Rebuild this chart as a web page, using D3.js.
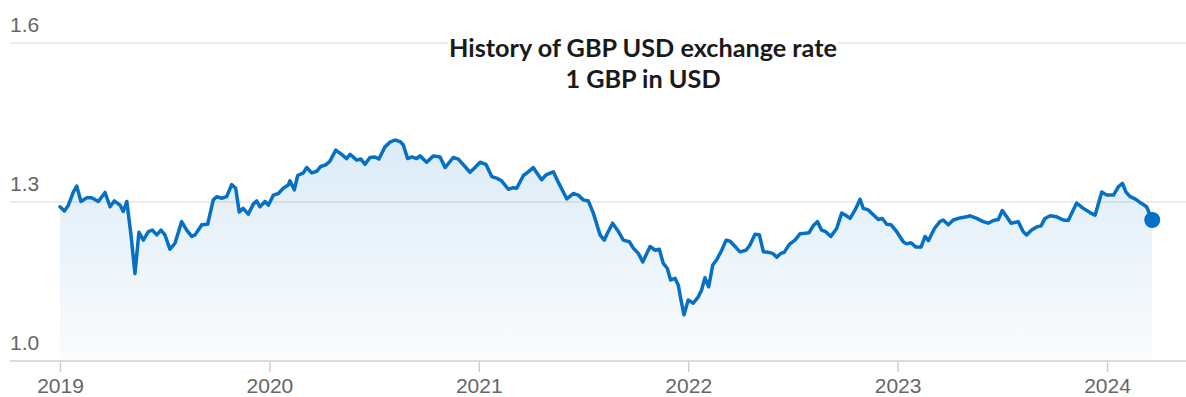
<!DOCTYPE html>
<html>
<head>
<meta charset="utf-8">
<script src="https://cdn.jsdelivr.net/npm/d3@7"></script>
<style>
  body { margin: 0; background: #fff; }
  svg { display: block; }
</style>
</head>
<body>
<div id="chart"></div>
<script>
// GBP -> USD (decimal year, rate)
const years = [
  2019.000, 2019.021, 2019.040, 2019.064, 2019.080, 2019.100, 2019.128, 2019.151, 2019.183, 2019.215,
  2019.239, 2019.259, 2019.287, 2019.302, 2019.319, 2019.339, 2019.358, 2019.377, 2019.398, 2019.422,
  2019.441, 2019.462, 2019.482, 2019.501, 2019.525, 2019.549, 2019.581, 2019.605, 2019.629, 2019.645,
  2019.677, 2019.705, 2019.732, 2019.748, 2019.772, 2019.796, 2019.820, 2019.839, 2019.856, 2019.875,
  2019.899, 2019.923, 2019.939, 2019.955, 2019.979, 2019.995, 2020.019, 2020.043, 2020.066, 2020.090,
  2020.098, 2020.119, 2020.135, 2020.162, 2020.178, 2020.202, 2020.226, 2020.245, 2020.269, 2020.289,
  2020.317, 2020.345, 2020.369, 2020.385, 2020.417, 2020.437, 2020.457, 2020.480, 2020.504, 2020.523,
  2020.552, 2020.576, 2020.600, 2020.624, 2020.639, 2020.660, 2020.680, 2020.703, 2020.719, 2020.751,
  2020.783, 2020.815, 2020.839, 2020.878, 2020.902, 2020.934, 2020.958, 2020.982, 2021.006, 2021.034,
  2021.062, 2021.085, 2021.109, 2021.141, 2021.165, 2021.181, 2021.213, 2021.236, 2021.260, 2021.284,
  2021.300, 2021.321, 2021.356, 2021.380, 2021.420, 2021.451, 2021.475, 2021.499, 2021.523, 2021.547,
  2021.579, 2021.599, 2021.614, 2021.639, 2021.666, 2021.690, 2021.719, 2021.738, 2021.762, 2021.783,
  2021.802, 2021.818, 2021.842, 2021.862, 2021.881, 2021.900, 2021.916, 2021.937, 2021.953, 2021.964,
  2021.980, 2022.000, 2022.024, 2022.048, 2022.064, 2022.080, 2022.098, 2022.117, 2022.136, 2022.160,
  2022.181, 2022.200, 2022.224, 2022.247, 2022.276, 2022.295, 2022.319, 2022.340, 2022.359, 2022.383,
  2022.404, 2022.423, 2022.442, 2022.458, 2022.483, 2022.510, 2022.534, 2022.558, 2022.577, 2022.597,
  2022.617, 2022.637, 2022.657, 2022.681, 2022.709, 2022.733, 2022.752, 2022.773, 2022.797, 2022.821,
  2022.836, 2022.860, 2022.889, 2022.908, 2022.927, 2022.948, 2022.969, 2022.996, 2023.027, 2023.043,
  2023.064, 2023.088, 2023.112, 2023.131, 2023.147, 2023.176, 2023.202, 2023.218, 2023.242, 2023.266,
  2023.298, 2023.330, 2023.346, 2023.378, 2023.409, 2023.433, 2023.457, 2023.481, 2023.500, 2023.521,
  2023.542, 2023.576, 2023.600, 2023.616, 2023.640, 2023.664, 2023.685, 2023.704, 2023.728, 2023.760,
  2023.791, 2023.815, 2023.855, 2023.887, 2023.919, 2023.943, 2023.975, 2023.999, 2024.031, 2024.055,
  2024.074, 2024.090, 2024.111, 2024.138, 2024.162, 2024.189, 2024.216
];
const rates = [
  1.291, 1.283, 1.294, 1.319, 1.330, 1.301, 1.308, 1.308, 1.301, 1.318,
  1.291, 1.302, 1.294, 1.282, 1.301, 1.238, 1.165, 1.243, 1.228, 1.244,
  1.247, 1.238, 1.247, 1.238, 1.211, 1.222, 1.263, 1.247, 1.235, 1.238,
  1.257, 1.258, 1.304, 1.310, 1.307, 1.310, 1.333, 1.326, 1.281, 1.288,
  1.277, 1.296, 1.302, 1.291, 1.301, 1.294, 1.313, 1.316, 1.326, 1.332,
  1.340, 1.323, 1.350, 1.355, 1.365, 1.355, 1.358, 1.367, 1.370, 1.377,
  1.398, 1.390, 1.382, 1.390, 1.379, 1.381, 1.371, 1.384, 1.385, 1.381,
  1.404, 1.413, 1.417, 1.414, 1.408, 1.382, 1.385, 1.382, 1.387, 1.375,
  1.387, 1.385, 1.365, 1.384, 1.381, 1.367, 1.356, 1.365, 1.375, 1.371,
  1.348, 1.345, 1.340, 1.324, 1.327, 1.326, 1.350, 1.357, 1.365, 1.351,
  1.342, 1.351, 1.357, 1.337, 1.306, 1.316, 1.313, 1.304, 1.302, 1.279,
  1.238, 1.228, 1.241, 1.260, 1.245, 1.228, 1.225, 1.213, 1.203, 1.187,
  1.203, 1.216, 1.209, 1.211, 1.184, 1.175, 1.153, 1.156, 1.143, 1.118,
  1.087, 1.115, 1.109, 1.121, 1.134, 1.157, 1.140, 1.181, 1.191, 1.209,
  1.228, 1.226, 1.216, 1.206, 1.209, 1.219, 1.239, 1.238, 1.206, 1.205,
  1.203, 1.196, 1.203, 1.205, 1.220, 1.228, 1.240, 1.241, 1.242, 1.255,
  1.263, 1.247, 1.244, 1.235, 1.250, 1.279, 1.275, 1.269, 1.285, 1.305,
  1.288, 1.285, 1.274, 1.267, 1.269, 1.258, 1.257, 1.244, 1.225, 1.221,
  1.223, 1.215, 1.215, 1.235, 1.227, 1.250, 1.263, 1.266, 1.257, 1.266,
  1.270, 1.272, 1.274, 1.269, 1.263, 1.260, 1.265, 1.267, 1.284, 1.272,
  1.260, 1.263, 1.244, 1.238, 1.247, 1.253, 1.255, 1.269, 1.274, 1.272,
  1.266, 1.265, 1.298, 1.288, 1.280, 1.275, 1.319, 1.313, 1.313, 1.329,
  1.335, 1.319, 1.310, 1.305, 1.298, 1.291, 1.266
];
const yTicks = [1.0, 1.3, 1.6];
const xTicks = [2019, 2020, 2021, 2022, 2023, 2024];
const titleLines = ["History of GBP USD exchange rate", "1 GBP in USD"];

const width = 1186;
const height = 397;
const lineColor = "#0570c4";

const data = years.map((t, i) => ({ t: t, v: rates[i] }));

const svg = d3.select("#chart")
    .append("svg")
    .attr("width", width)
    .attr("height", height);

const x = d3.scaleLinear().domain([2019, 2024]).range([60, 1107]);
const y = d3.scaleLinear().domain([1.0, 1.6]).range([361, 43]);

const grad = svg.append("defs").append("linearGradient")
    .attr("id", "fillGrad")
    .attr("gradientUnits", "userSpaceOnUse")
    .attr("x1", 0).attr("x2", 0)
    .attr("y1", y(1.42)).attr("y2", y(1.0));
grad.append("stop").attr("offset", 0).attr("stop-color", lineColor).attr("stop-opacity", 0.14);
grad.append("stop").attr("offset", 1).attr("stop-color", lineColor).attr("stop-opacity", 0.02);

// horizontal grid lines (not the base line)
svg.append("g")
    .selectAll("line")
    .data(yTicks.filter(d => d > 1.0))
    .join("line")
    .attr("x1", 10).attr("x2", width)
    .attr("y1", d => y(d)).attr("y2", d => y(d))
    .attr("stroke", "#e6e6e6")
    .attr("stroke-width", 1.5);

// y labels sit above their line
svg.append("g")
    .selectAll("text")
    .data(yTicks)
    .join("text")
    .attr("x", 10)
    .attr("y", d => y(d) - 11)
    .attr("fill", "#666")
    .style("font-family", "'Liberation Sans', Arial, sans-serif")
    .style("font-size", "21px")
    .text(d3.format(".1f"));

const area = d3.area()
    .x(d => x(d.t))
    .y0(y(1.0))
    .y1(d => y(d.v));

const line = d3.line()
    .x(d => x(d.t))
    .y(d => y(d.v));

svg.append("path")
    .datum(data)
    .attr("d", area)
    .attr("fill", "url(#fillGrad)");

svg.append("path")
    .datum(data)
    .attr("d", line)
    .attr("fill", "none")
    .attr("stroke", lineColor)
    .attr("stroke-width", 3.5)
    .attr("stroke-linejoin", "round")
    .attr("stroke-linecap", "round");

const last = data[data.length - 1];
svg.append("circle")
    .attr("cx", x(last.t))
    .attr("cy", y(last.v))
    .attr("r", 8)
    .attr("fill", lineColor);

// x axis
svg.append("line")
    .attr("x1", 10).attr("x2", width)
    .attr("y1", y(1.0)).attr("y2", y(1.0))
    .attr("stroke", "#dcdcdc")
    .attr("stroke-width", 2);

const xAxis = svg.append("g")
    .attr("transform", `translate(0,${y(1.0)})`)
    .call(d3.axisBottom(x)
        .tickValues(xTicks)
        .tickFormat(d3.format("d"))
        .tickSize(11)
        .tickPadding(6));
xAxis.select(".domain").remove();
xAxis.selectAll(".tick line").attr("stroke", "#d0d0d0").attr("stroke-width", 1.5);
xAxis.selectAll(".tick text")
    .attr("fill", "#666")
    .style("font-family", "'Liberation Sans', Arial, sans-serif")
    .style("font-size", "21px");

// title, white box hides the top grid line behind it
const titleG = svg.append("g");
const titleBox = titleG.append("rect").attr("fill", "#fff");
const titleText = titleG.selectAll("text")
    .data(titleLines)
    .join("text")
    .attr("x", 643)
    .attr("y", (d, i) => 57 + i * 31)
    .attr("text-anchor", "middle")
    .attr("fill", "#1a1a1a")
    .style("font-family", "Lato, 'Open Sans', sans-serif")
    .style("font-weight", "bold")
    .style("font-size", "20px")
    .text(d => d);

// scale the font so the first line is as wide as in the picture
const w0 = titleText.node().getComputedTextLength();
const fs = 20 * 388 / w0;
titleText.style("font-size", fs.toFixed(2) + "px");
titleBox
    .attr("x", 643 - 195).attr("width", 390)
    .attr("y", 36).attr("height", 14);
</script>
</body>
</html>
